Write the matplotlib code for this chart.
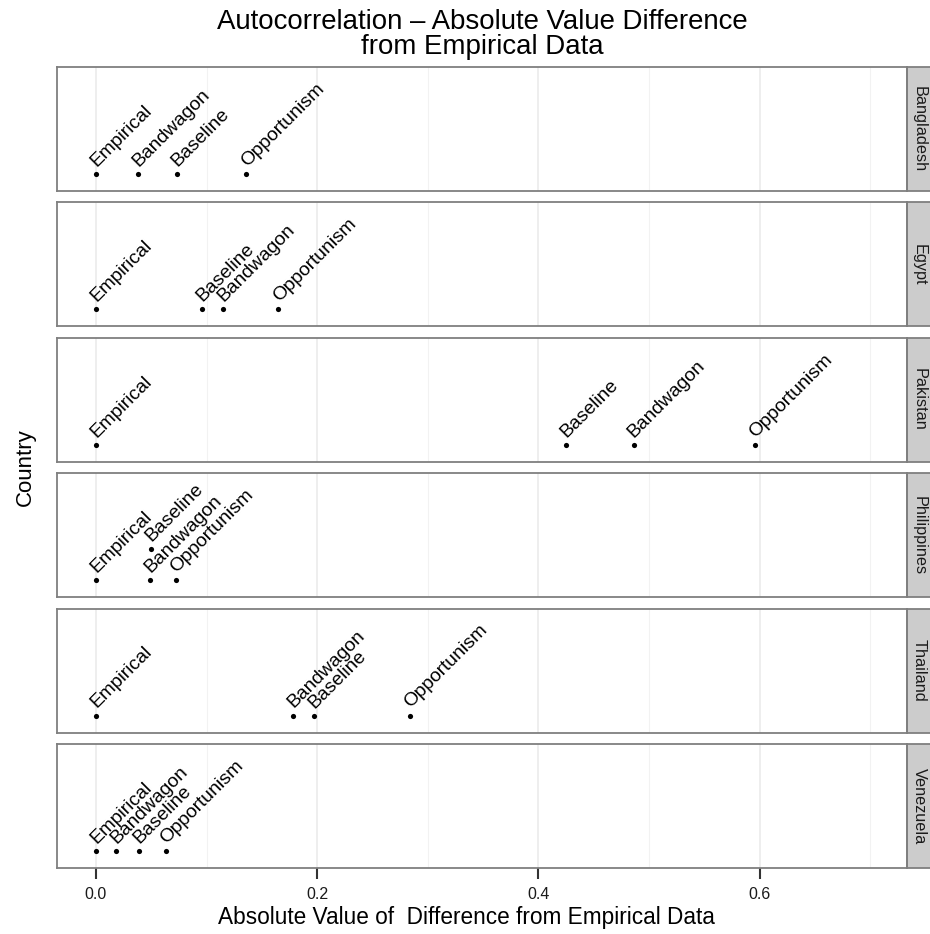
import matplotlib
matplotlib.use("Agg")
import matplotlib.pyplot as plt
from matplotlib.patches import Rectangle
from matplotlib.ticker import MultipleLocator, FormatStrFormatter

plt.rcParams["font.family"] = ["Liberation Sans", "DejaVu Sans"]

countries = ["Bangladesh", "Egypt", "Pakistan", "Philippines", "Thailand", "Venezuela"]
models = ["Empirical", "Bandwagon", "Baseline", "Opportunism"]

# absolute difference from empirical, per country, in the order of `models`
diff_values = {
    "Bangladesh": [0.0, 0.038, 0.073, 0.136],
    "Egypt": [0.0, 0.115, 0.0955, 0.165],
    "Pakistan": [0.0, 0.486, 0.425, 0.596],
    "Philippines": [0.0, 0.049, 0.050, 0.072],
    "Thailand": [0.0, 0.178, 0.197, 0.284],
    "Venezuela": [0.0, 0.018, 0.039, 0.063],
}
# vertical level of each point (only one label was bumped up)
y_levels = {
    "Bangladesh": [0, 0, 0, 0],
    "Egypt": [0, 0, 0, 0],
    "Pakistan": [0, 0, 0, 0],
    "Philippines": [0, 0, 1, 0],
    "Thailand": [0, 0, 0, 0],
    "Venezuela": [0, 0, 0, 0],
}

W, H = 930, 934
fig, axes = plt.subplots(len(countries), 1, figsize=(W / 100, H / 100), dpi=100, sharex=True)
left, right, top, bottom = 57 / W, 907 / W, 1 - 67 / H, 1 - 868 / H
fig.subplots_adjust(left=left, right=right, top=top, bottom=bottom, hspace=0.094)

border = "#7f7f7f"
for i, (ax, country) in enumerate(zip(axes, countries)):
    xs = diff_values[country]
    ys = y_levels[country]
    ax.scatter(xs, ys, s=14, color="black", zorder=3, linewidths=0)
    for name, x, y in zip(models, xs, ys):
        ax.annotate(name, (x, y), xytext=(0.3, 5.0), textcoords="offset points",
                    rotation=45, rotation_mode="anchor", ha="left", va="baseline",
                    fontsize=13.9, color="black")

    ax.set_xlim(-0.0352, 0.7332)
    ax.set_ylim(-0.537, 3.384)
    ax.xaxis.set_major_locator(MultipleLocator(0.2))
    ax.xaxis.set_minor_locator(MultipleLocator(0.1))
    ax.grid(True, which="major", axis="x", color="#ebebeb", linewidth=1.2)
    ax.grid(True, which="minor", axis="x", color="#f2f2f2", linewidth=0.8)
    ax.set_axisbelow(True)
    ax.set_yticks([])
    ax.tick_params(axis="x", which="minor", length=0)
    if i < len(countries) - 1:
        ax.tick_params(axis="x", which="major", length=0, labelbottom=False)
    else:
        ax.tick_params(axis="x", which="major", length=8, width=1.5, color="#333333",
                       labelsize=11.5, pad=5.5, labelcolor="#1a1a1a")
    for sp in ax.spines.values():
        sp.set_color(border)
        sp.set_linewidth(1.3)

    # facet strip on the right
    strip_w = 25 / 850
    ax.add_patch(Rectangle((1, 0), strip_w, 1, transform=ax.transAxes, clip_on=False,
                           facecolor="#cccccc", edgecolor=border, linewidth=1.3))
    ax.text(1 + strip_w / 2, 0.5, country, transform=ax.transAxes, rotation=-90,
            ha="center", va="center", fontsize=11.7, color="#1a1a1a")

axes[-1].xaxis.set_major_formatter(FormatStrFormatter("%.1f"))
axes[-1].set_xlabel("Absolute Value of  Difference from Empirical Data", fontsize=16.3)
axes[-1].xaxis.set_label_coords((466 - 57) / 850, -(906 - 868) / 124)

cx = (left + right) / 2
fig.text(cx, 1 - 9 / H, "Autocorrelation \u2013 Absolute Value Difference\nfrom Empirical Data",
         ha="center", va="top", fontsize=19.9, linespacing=0.95)
fig.text(25 / W, (top + bottom) / 2, "Country", rotation=90, ha="center", va="center", fontsize=16)

fig.savefig("out.png", dpi=100)
